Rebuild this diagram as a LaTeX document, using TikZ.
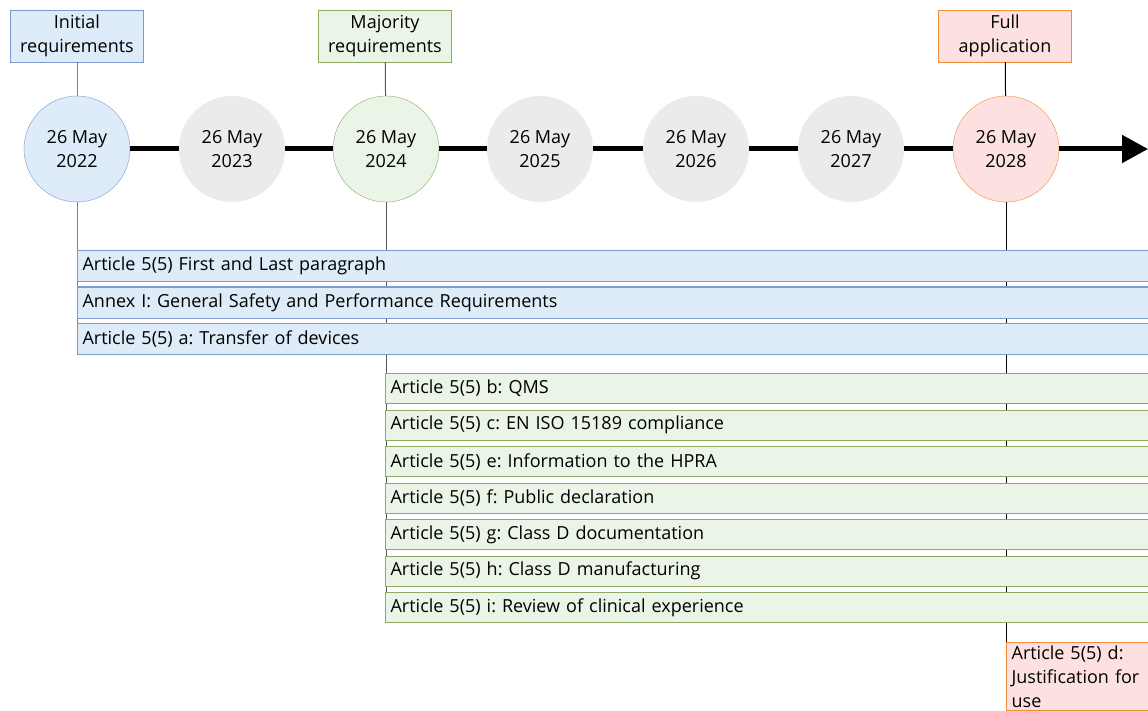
\documentclass[tikz,border=0pt]{standalone}
\usepackage{fontspec}
\setmainfont{Open Sans}
\usetikzlibrary{arrows.meta}
\definecolor{blueFill}{HTML}{DEEBF8}
\definecolor{blueLine}{HTML}{7C9BCB}
\definecolor{greenFill}{HTML}{EAF5E7}
\definecolor{greenLine}{HTML}{8EAA62}
\definecolor{pinkFill}{HTML}{FDE1E1}
\definecolor{pinkLine}{HTML}{F28C3C}
\definecolor{grayFill}{HTML}{EBEBEB}
\frenchspacing

\begin{document}
\begin{tikzpicture}[x=1pt,y=-1pt,font=\fontsize{18}{24}\selectfont,
  yearnode/.style={circle,minimum size=106pt,inner sep=0pt,align=center},
  phasebox/.style={rectangle,minimum width=133pt,minimum height=52pt,inner sep=0pt,align=center},
  articlebar/.style={rectangle,anchor=north west,text width=1090pt,minimum height=31pt,inner xsep=5pt,inner ysep=0pt,align=left,line width=1.2pt},
  timeline/.style={line width=5pt}]
\useasboundingbox (0,0) rectangle (1148,711);
\clip (0,0) rectangle (1148,711);
\fill[white] (0,0) rectangle (1148,711);

\node[phasebox,fill=blueFill,draw=blueLine] (initial) at (77,36) {Initial\\requirements};
\node[phasebox,fill=greenFill,draw=greenLine] (majority) at (385,36) {Majority\\requirements};
\node[phasebox,fill=pinkFill,draw=pinkLine] (full) at (1005,36) {Full\\application};

\node[yearnode,fill=blueFill,draw=blueLine] (d2022) at (77,149) {26 May\\2022};
\node[yearnode,fill=greenFill,draw=greenLine] (d2024) at (386,149) {26 May\\2024};
\node[yearnode,fill=pinkFill,draw=pinkLine] (d2028) at (1006,149) {26 May\\2028};
\foreach \yr/\x in {2023/232,2025/540,2026/696,2027/851}
  \node[yearnode,fill=grayFill] (d\yr) at (\x,149) {26 May\\\yr};

\coordinate (tlend) at (1148,149);
\coordinate (e2022) at (77,354);
\coordinate (e2024) at (386,621);
\coordinate (e2028) at (1006,642);

\draw[timeline] (d2022) -- (d2023) -- (d2024) -- (d2025) -- (d2026) -- (d2027) -- (d2028);
\draw[timeline,-{Triangle[length=26pt,width=27pt]}] (d2028) -- (tlend);

\draw[gray,line width=1pt] (initial) -- (d2022);
\draw[gray,line width=1pt] (d2022) -- (e2022);
\draw[black!65,line width=1pt] (majority) -- (d2024);
\draw[black!65,line width=1pt] (d2024) -- (e2024);
\draw[black,line width=1pt] (full) -- (d2028);
\draw[black,line width=1pt] (d2028) -- (e2028);

\foreach \i/\y/\t in {1/250/{Article 5(5) First and Last paragraph},
    2/286.5/{Annex I: General Safety and Performance Requirements},
    3/323/{Article 5(5) a: Transfer of devices}}
  \node[articlebar,fill=blueFill,draw=blueLine] (blue\i) at (77,\y) {\t};

\foreach \i/\y/\t in {1/373/{Article 5(5) b: QMS},
    2/409.5/{Article 5(5) c: EN ISO 15189 compliance},
    3/446/{Article 5(5) e: Information to the HPRA},
    4/482.5/{Article 5(5) f: Public declaration},
    5/519/{Article 5(5) g: Class D documentation},
    6/555.5/{Article 5(5) h: Class D manufacturing},
    7/592/{Article 5(5) i: Review of clinical experience}}
  \node[articlebar,fill=greenFill,draw=greenLine,minimum height=30pt] (green\i) at (385,\y) {\t};

\node[rectangle,anchor=north west,fill=pinkFill,draw=pinkLine,line width=1.2pt,text width=180pt,
  inner xsep=5pt,inner ysep=3pt,align=left] (justify) at (1006,642)
  {Article 5(5) d:\\Justification for\\use};
\end{tikzpicture}
\end{document}
